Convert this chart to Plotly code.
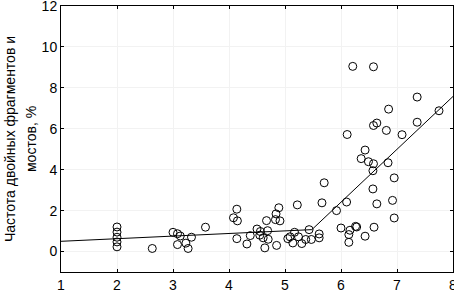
import plotly.graph_objects as go

# Observed data points
x_vals = [2, 2, 2, 2, 2, 2.63,
          3.0, 3.08, 3.13, 3.08, 3.23, 3.27, 3.33, 3.58,
          4.14, 4.08, 4.15, 4.14, 4.32, 4.38,
          4.5, 4.56, 4.55, 4.61, 4.69, 4.7, 4.64, 4.85, 4.67, 4.83, 4.84, 4.91, 4.89,
          5.05, 5.09, 5.14, 5.17, 5.22, 5.24, 5.30, 5.37, 5.43, 5.47, 5.61, 5.61, 5.66, 5.70,
          5.92, 6.0, 6.10, 6.16, 6.14, 6.14, 6.26, 6.28, 6.43, 6.57, 6.59, 6.64, 6.92, 6.95, 6.95,
          6.36, 6.43, 6.49, 6.58, 6.57, 6.84, 6.11, 6.21, 6.58, 6.85, 7.36, 7.75, 7.36,
          6.58, 6.64, 6.81, 7.09]
y_vals = [1.2, 0.95, 0.7, 0.47, 0.23, 0.15,
          0.94, 0.87, 0.76, 0.34, 0.41, 0.15, 0.7, 1.19,
          2.07, 1.65, 1.5, 0.63, 0.37, 0.78,
          1.1, 0.98, 0.8, 0.67, 1.02, 0.6, 0.18, 0.3, 1.51, 1.56, 1.84, 1.5, 2.14,
          0.63, 0.72, 0.42, 0.94, 2.28, 0.72, 0.39, 0.59, 1.07, 0.59, 0.86, 0.67, 2.38, 3.36,
          2.0, 1.15, 2.42, 1.04, 0.83, 0.45, 1.23, 1.2, 0.75, 3.06, 1.19, 2.33, 2.5, 1.64, 3.6,
          4.54, 4.96, 4.39, 4.29, 3.95, 4.34, 5.72, 9.05, 9.03, 6.96, 7.55, 6.88, 6.32,
          6.16, 6.28, 5.92, 5.71]

# Piecewise linear fit (breakpoint)
fit_x = [1, 5.48, 8]
fit_y = [0.5, 1.07, 7.58]

x_ticks = [1, 2, 3, 4, 5, 6, 7, 8]
y_ticks = [0, 2, 4, 6, 8, 10, 12]

y_title_lines = ["Частота двойных фрагментов и", "мостов, %"]

fig = go.Figure()
fig.add_trace(go.Scatter(x=fit_x, y=fit_y, mode="lines",
                         line=dict(color="black", width=1), showlegend=False,
                         cliponaxis=False))
fig.add_trace(go.Scatter(x=x_vals, y=y_vals, mode="markers",
                         marker=dict(symbol="circle-open", size=8,
                                     color="black", line=dict(width=1)),
                         showlegend=False))

font = dict(family="Liberation Sans, Arial, sans-serif", size=14, color="black")
L, R, T, B, W, H = 61, 1, 6, 19, 454, 291
pw, ph = W - L - R, H - T - B

for px, txt in zip([10, 31], y_title_lines):
    fig.add_annotation(text=txt, textangle=-90, xref="paper", yref="paper",
                       x=(px - L) / pw, y=0.5, xanchor="center", yanchor="middle",
                       showarrow=False,
                       font=dict(family="Liberation Sans, Arial, sans-serif", size=14, color="black"))

fig.update_layout(
    width=W, height=H,
    margin=dict(l=L, r=R, t=T, b=B),
    paper_bgcolor="white", plot_bgcolor="white",
    font=font,
    xaxis=dict(range=[1, 8], tickvals=x_ticks, showgrid=True, gridcolor="#f2f2f2",
               zeroline=False, showline=True, linecolor="black", linewidth=1,
               mirror="ticks", ticks="inside", ticklen=3, tickcolor="black",
               tickfont=font, automargin=False, ticklabeloverflow="allow",
               ticklabelstandoff=0),
    yaxis=dict(range=[-1, 12], tickvals=y_ticks, showgrid=True, gridcolor="#f2f2f2",
               zeroline=False, showline=True, linecolor="black", linewidth=1,
               mirror="ticks", ticks="inside", ticklen=3, tickcolor="black",
               tickfont=font, automargin=False, ticklabeloverflow="allow"),
)

fig.write_html("out.html", config={"displayModeBar": False},
               post_script="document.body.style.margin='0';document.body.style.overflow='hidden';")
